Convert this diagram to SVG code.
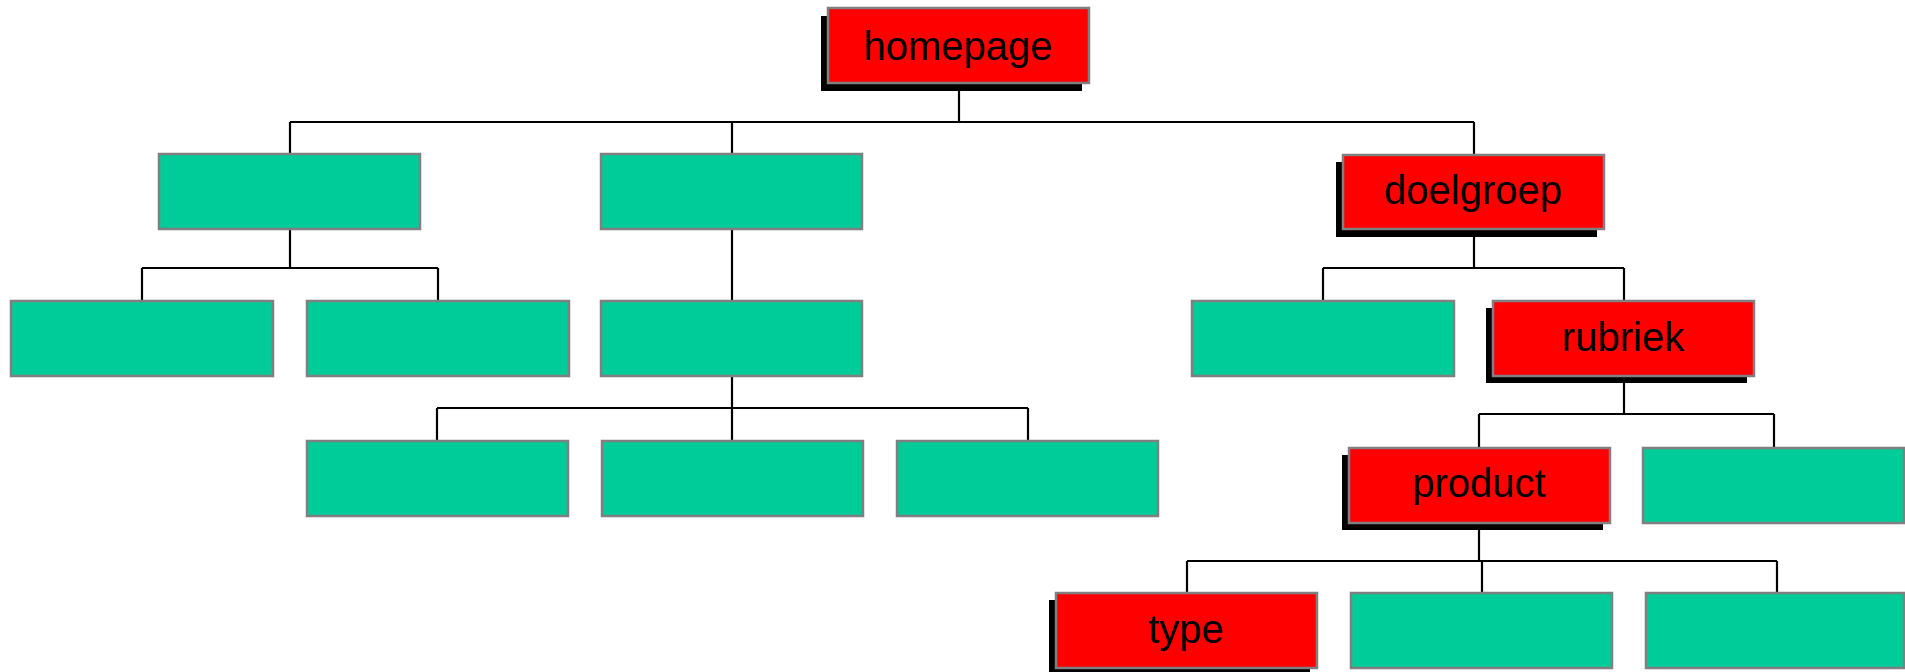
<svg xmlns="http://www.w3.org/2000/svg" width="1905" height="672" viewBox="0 0 1905 672">
<style>
.bx{stroke:#808080;stroke-width:2.5}
.g{fill:#00CC99}
.r{fill:#FF0000}
.sh{fill:#000000}
.t{font-family:"Liberation Sans",Arial,sans-serif;font-size:40px;fill:#000;text-anchor:middle}
.c{fill:none;stroke:#000;stroke-width:2.2}
</style>
<rect width="1905" height="672" fill="#fff"/>
<g id="connectors">
<path class="c" d="M959 83V122M290 122H1474M290 122V154M732 122V154M1474 122V154"/>
<path class="c" d="M290 229V268M142 268H438M142 268V301M438 268V301"/>
<path class="c" d="M732 229V301"/>
<path class="c" d="M732 376V408M437 408H1028M437 408V441M732 408V441M1028 408V441"/>
<path class="c" d="M1474 229V268M1323 268H1624M1323 268V301M1624 268V301"/>
<path class="c" d="M1624 376V414M1479 414H1774M1479 414V448M1774 414V448"/>
<path class="c" d="M1479 523V561M1187 561H1777M1187 561V593M1482 561V593M1777 561V593"/>
</g>
<g id="homepage">
<rect class="sh" x="821" y="16" width="261" height="75"/>
<rect class="bx r" x="828" y="8" width="261" height="75"/>
<text class="t" x="958" y="60">homepage</text>
</g>
<g id="n1a"><rect class="bx g" x="159" y="154" width="261" height="75"/></g>
<g id="n1b"><rect class="bx g" x="601" y="154" width="261" height="75"/></g>
<g id="doelgroep">
<rect class="sh" x="1336" y="162" width="261" height="75"/>
<rect class="bx r" x="1343" y="155" width="261" height="74"/>
<text class="t" x="1473" y="204">doelgroep</text>
</g>
<g id="n2a"><rect class="bx g" x="11" y="301" width="262" height="75"/></g>
<g id="n2b"><rect class="bx g" x="307" y="301" width="262" height="75"/></g>
<g id="n2c"><rect class="bx g" x="601" y="301" width="261" height="75"/></g>
<g id="n2d"><rect class="bx g" x="1192" y="301" width="262" height="75"/></g>
<g id="rubriek">
<rect class="sh" x="1486" y="308" width="261" height="75"/>
<rect class="bx r" x="1493" y="301" width="261" height="75"/>
<text class="t" x="1623" y="351">rubriek</text>
</g>
<g id="n3a"><rect class="bx g" x="307" y="441" width="261" height="75"/></g>
<g id="n3b"><rect class="bx g" x="602" y="441" width="261" height="75"/></g>
<g id="n3c"><rect class="bx g" x="897" y="441" width="261" height="75"/></g>
<g id="product">
<rect class="sh" x="1342" y="455" width="261" height="75"/>
<rect class="bx r" x="1349" y="448" width="261" height="75"/>
<text class="t" x="1479" y="497">product</text>
</g>
<g id="n3d"><rect class="bx g" x="1643" y="448" width="261" height="75"/></g>
<g id="type">
<rect class="sh" x="1049" y="600" width="261" height="75"/>
<rect class="bx r" x="1056" y="593" width="261" height="75"/>
<text class="t" x="1186" y="643">type</text>
</g>
<g id="n4a"><rect class="bx g" x="1351" y="593" width="261" height="75"/></g>
<g id="n4b"><rect class="bx g" x="1646" y="593" width="258" height="75"/></g>
</svg>
